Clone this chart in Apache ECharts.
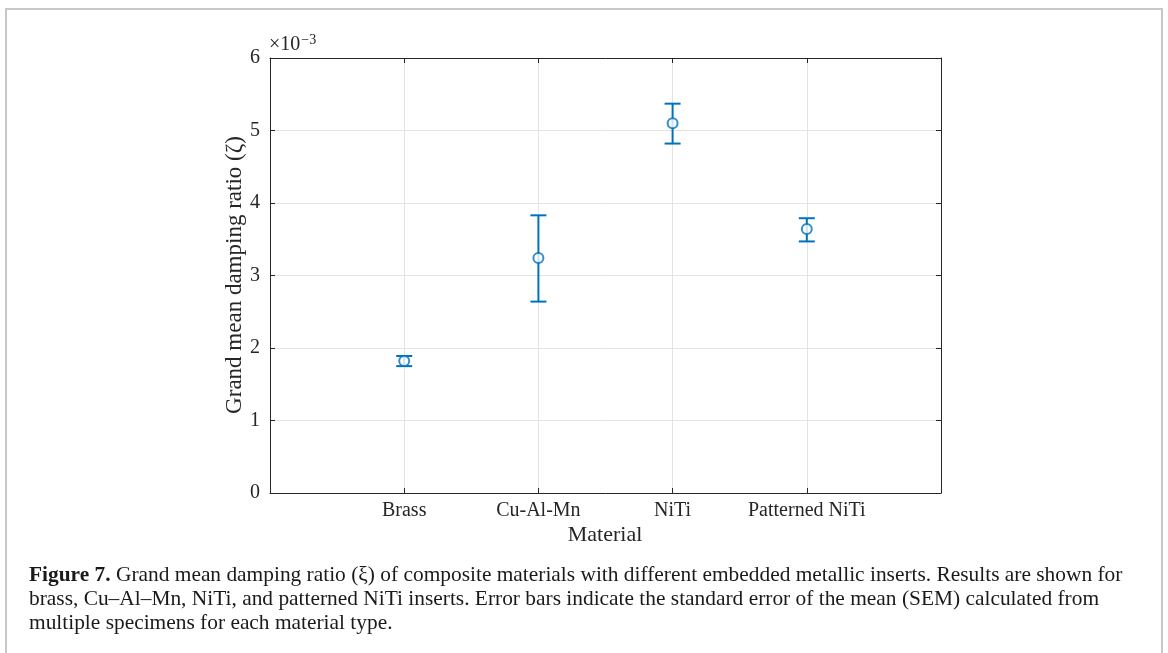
<!DOCTYPE html>
<html>
<head>
<meta charset="utf-8">
<script src="https://cdn.jsdelivr.net/npm/echarts@6/dist/echarts.min.js"></script>
<style>
html,body{margin:0;padding:0;background:#fff;}
#frame{position:absolute;left:5px;top:8px;width:1154px;height:645px;border-left:2px solid #c8c8c8;border-top:2px solid #c8c8c8;border-right:2px solid #c8c8c8;}
#chart{position:absolute;left:0;top:0;width:1168px;height:653px;}
</style>
</head>
<body>
<div id="frame"></div>
<div id="chart"></div>
<script>
const categories = ['Brass', 'Cu-Al-Mn', 'NiTi', 'Patterned NiTi'];
const meanValues = [1.82, 3.24, 5.10, 3.64];     // ×10^-3
const upperValues = [1.89, 3.83, 5.37, 3.79];
const lowerValues = [1.75, 2.64, 4.82, 3.47];
const yTicks = [0, 1, 2, 3, 4, 5, 6];

const blue = '#0072BD';
const axisColor = '#262626';
const serif = '"Liberation Serif", "DejaVu Serif", serif';

const errData = categories.map((c, i) => [i + 1, lowerValues[i], upperValues[i]]);
const meanData = categories.map((c, i) => [i + 1, meanValues[i]]);

const chart = echarts.init(document.getElementById('chart'), null, {renderer: 'canvas'});

const baseX = {
  type: 'value', min: 0, max: 5, interval: 1,
  axisLine: {show: true, onZero: false, lineStyle: {color: axisColor, width: 1}},
  axisTick: {show: true, inside: true, length: 5, lineStyle: {color: axisColor}},
};
const baseY = {
  type: 'value', min: 0, max: 6, interval: 1,
  axisLine: {show: true, onZero: false, lineStyle: {color: axisColor, width: 1}},
  axisTick: {show: true, inside: true, length: 5, lineStyle: {color: axisColor}},
};

chart.setOption({
  animation: false,
  grid: {left: 270, right: 227, top: 58, bottom: 160, containLabel: false},
  xAxis: [
    Object.assign({}, baseX, {
      position: 'bottom',
      axisLabel: {
        show: true, margin: 8, color: axisColor, fontFamily: serif, fontSize: 20,
        formatter: v => (v >= 1 && v <= categories.length) ? categories[v - 1] : ''
      },
      splitLine: {show: true, lineStyle: {color: '#e3e3e3', width: 1}}
    }),
    Object.assign({}, baseX, {
      position: 'top',
      axisLabel: {show: false},
      splitLine: {show: false}
    })
  ],
  yAxis: [
    Object.assign({}, baseY, {
      position: 'left',
      axisLabel: {
        show: true, margin: 10, color: axisColor, fontFamily: serif, fontSize: 20,
        formatter: v => yTicks.indexOf(v) >= 0 ? String(v) : ''
      },
      splitLine: {show: true, lineStyle: {color: '#e3e3e3', width: 1}}
    }),
    Object.assign({}, baseY, {
      position: 'right',
      axisLabel: {show: false},
      splitLine: {show: false}
    })
  ],
  series: [
    {
      type: 'custom',
      xAxisIndex: 0, yAxisIndex: 0,
      data: errData,
      renderItem: function (params, api) {
        const x = api.value(0);
        const lo = api.coord([x, api.value(1)]);
        const hi = api.coord([x, api.value(2)]);
        const hw = 8;
        const style = {stroke: blue, lineWidth: 2};
        return {
          type: 'group',
          children: [
            {type: 'line', shape: {x1: lo[0], y1: lo[1], x2: hi[0], y2: hi[1]}, style: style},
            {type: 'line', shape: {x1: lo[0] - hw, y1: lo[1], x2: lo[0] + hw, y2: lo[1]}, style: style},
            {type: 'line', shape: {x1: hi[0] - hw, y1: hi[1], x2: hi[0] + hw, y2: hi[1]}, style: style}
          ]
        };
      },
      z: 3
    },
    {
      type: 'scatter',
      xAxisIndex: 0, yAxisIndex: 0,
      data: meanData,
      symbol: 'circle',
      symbolSize: 10,
      itemStyle: {color: '#ffffff', borderColor: blue, borderWidth: 2},
      z: 4
    }
  ],
  graphic: [
    {
      type: 'text', left: 269, top: 33,
      style: {
        text: '{a|×10}{b|−3}',
        rich: {
          a: {fontFamily: serif, fontSize: 20, fill: axisColor},
          b: {fontFamily: serif, fontSize: 14, fill: axisColor, verticalAlign: 'top', padding: [0, 0, 9, 1]}
        }
      }
    },
    {
      type: 'text', x: 235, y: 275, rotation: Math.PI / 2,
      style: {
        text: 'Grand mean damping ratio (ζ)',
        fontFamily: serif, fontSize: 23, fill: axisColor,
        align: 'center', verticalAlign: 'middle'
      }
    },
    {
      type: 'text', x: 605, y: 535,
      style: {
        text: 'Material',
        fontFamily: serif, fontSize: 22, fill: axisColor,
        align: 'center', verticalAlign: 'middle'
      }
    },
    {
      type: 'text', left: 29, top: 563,
      style: {
        text: '{b|Figure 7.} Grand mean damping ratio (ξ) of composite materials with different embedded metallic inserts. Results are shown for\nbrass, Cu–Al–Mn, NiTi, and patterned NiTi inserts. Error bars indicate the standard error of the mean (SEM) calculated from\nmultiple specimens for each material type.',
        fontFamily: serif, fontSize: 21.4, fill: '#1a1a1a', lineHeight: 24,
        rich: {
          b: {fontFamily: serif, fontSize: 21.4, fontWeight: 'bold', fill: '#1a1a1a', lineHeight: 24}
        }
      }
    }
  ]
});
</script>
</body>
</html>
